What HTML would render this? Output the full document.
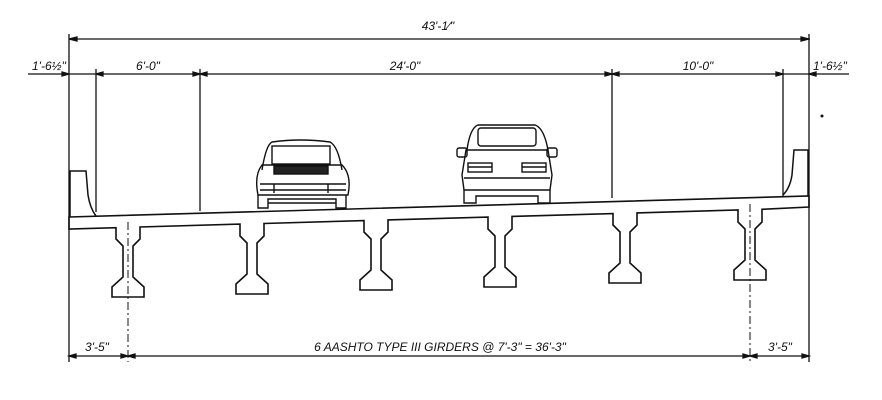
<!DOCTYPE html>
<html><head><meta charset="utf-8"><style>
html,body{margin:0;padding:0;background:#fff}
svg{display:block}
text{font-family:"Liberation Sans",sans-serif;font-style:italic;font-size:12px;fill:#111}
</style></head><body>
<svg width="882" height="400" viewBox="0 0 882 400" xmlns="http://www.w3.org/2000/svg">
<g stroke="#111" fill="none" stroke-width="1.3">
<!-- dimension lines -->
<line x1="69" y1="39" x2="810" y2="39"/>
<line x1="69" y1="34" x2="69" y2="362"/>
<line x1="809" y1="34" x2="809" y2="362"/>
<line x1="28" y1="74" x2="849" y2="74"/>
<line x1="96" y1="69" x2="96" y2="212"/>
<line x1="200" y1="69" x2="200" y2="211"/>
<line x1="612" y1="69" x2="612" y2="198"/>
<line x1="783" y1="69" x2="783" y2="196"/>
<line x1="69" y1="356" x2="809" y2="356"/>
<!-- arrow ticks -->
<path d="M69 39 l8 -2 l0 4z M809 39 l-8 -2 l0 4z M69 74 l-7 -2 v4z M96 74 l7 -2 v4z M200 74 l-7 -2 v4z M200 74 l7 -2 v4z M612 74 l-7 -2 v4z M612 74 l7 -2 v4z M783 74 l-7 -2 v4z M809 74 l7 -2 v4z M69 356 l7 -2 v4z M128 356 l-7 -2 v4z M128 356 l7 -2 v4z M750 356 l-7 -2 v4z M750 356 l7 -2 v4z M809 356 l-7 -2 v4z" fill="#111"/>
<!-- centerlines -->
<line x1="128" y1="222" x2="128" y2="362" stroke-width="1" stroke-dasharray="8 3 2 3"/>
<line x1="750" y1="204" x2="750" y2="362" stroke-width="1" stroke-dasharray="8 3 2 3"/>
<!-- deck + girders -->
<path stroke-width="1.6" d="M69 217 L809 196 L809 207
L762 209.3 L762 222 L755 229 L755 260 L766 270 L766 280 L734 280 L734 270 L745 260 L745 229 L738 222 L738 210
L637 212.9 L637 225 L630 232 L630 263 L641 273 L641 283 L609 283 L609 273 L620 263 L620 232 L613 225 L613 213.6
L512 216.4 L512 229 L505 236 L505 267 L516 277 L516 287 L484 287 L484 277 L495 267 L495 236 L488 229 L488 217.1
L388 219.9 L388 232 L381 239 L381 270 L392 280 L392 290 L360 290 L360 280 L371 270 L371 239 L364 232 L364 220.6
L264 223.5 L264 236 L257 243 L257 274 L268 284 L268 294 L236 294 L236 284 L247 274 L247 243 L240 236 L240 224.1
L140 227 L140 239 L133 246 L133 277 L144 287 L144 297 L112 297 L112 287 L123 277 L123 246 L116 239 L116 227.7
L69 229 Z"/>
<!-- barriers -->
<path stroke-width="1.5" d="M70 217 L70 171 L86 171 L88 195 Q90 208 96 216"/>
<path stroke-width="1.5" d="M808 196 L808 150 L794 150 L792 175 Q790 188 783 195"/>
<!-- car 1 -->
<g stroke-width="1.4">
<path d="M262 170 Q266 145 272 142 Q300 138 330 142 Q338 146 342 170"/>
<path d="M258 195 Q254 175 262 165 L342 165 Q352 175 348 195 Z"/>
<rect x="272" y="146" width="58" height="18"/>
<rect x="274" y="166" width="54" height="8" fill="#222"/>
<path d="M260 184 L346 184 M260 190 L346 190 M274 184 V193 M328 184 V193"/>
<path d="M258 195 L258 208 L268 208 L268 199 L336 199 L336 208 L346 208 L346 195" />
<path d="M268 203 L336 203"/>
</g>
<!-- car 2 -->
<g stroke-width="1.4">
<path d="M467 150 Q470 128 478 125 L535 125 Q544 128 548 150"/>
<rect x="478" y="128" width="58" height="18" rx="3"/>
<rect x="457" y="148" width="10" height="9" rx="2"/>
<rect x="547" y="148" width="10" height="9" rx="2"/>
<path d="M466 150 L548 150 L552 175 L550 190 L464 190 L462 175 Z"/>
<rect x="468" y="163" width="24" height="9"/>
<rect x="522" y="163" width="24" height="9"/>
<path d="M468 167 H492 M522 167 H546 M464 178 H550"/>
<path d="M464 190 L464 203 L476 203 L476 196 L538 196 L538 203 L550 203 L550 190"/>
</g>
</g>
<!-- labels -->
<text x="438" y="30" text-anchor="middle">43'-1⁄"</text>
<text x="32" y="70">1'-6½"</text>
<text x="148" y="70" text-anchor="middle">6'-0"</text>
<text x="405" y="70" text-anchor="middle">24'-0"</text>
<text x="698" y="70" text-anchor="middle">10'-0"</text>
<text x="813" y="70">1'-6½"</text>
<text x="97" y="351" text-anchor="middle">3'-5"</text>
<text x="440" y="351" text-anchor="middle">6 AASHTO TYPE III GIRDERS @ 7'-3" = 36'-3"</text>
<text x="780" y="351" text-anchor="middle">3'-5"</text>
<circle cx="822" cy="116" r="1.5" fill="#111"/>
</svg>
</body></html>
